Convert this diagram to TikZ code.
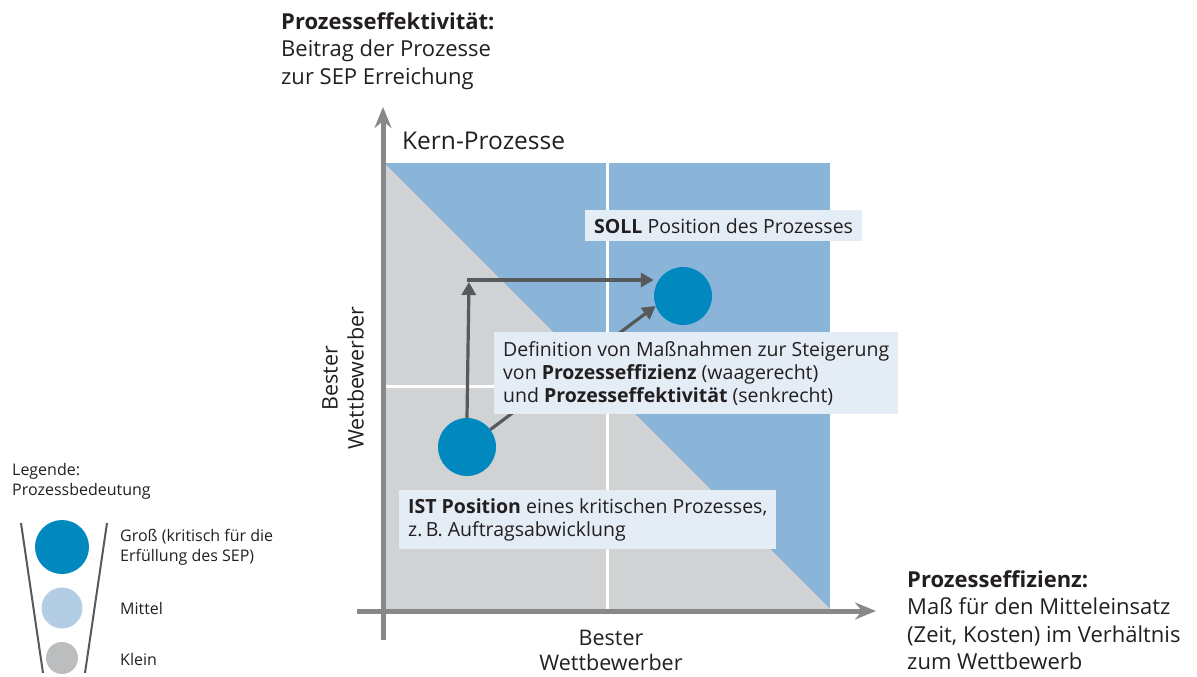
\documentclass[tikz,border=0pt]{standalone}
\usepackage{fontspec}
\setmainfont{Open Sans}
\usetikzlibrary{arrows.meta}
\definecolor{qblue}{HTML}{8AB4D8}
\definecolor{qgray}{HTML}{D1D2D4}
\definecolor{axisgray}{HTML}{86888A}
\definecolor{darrow}{HTML}{58595B}
\definecolor{boxfill}{HTML}{E4ECF5}
\definecolor{dotbig}{HTML}{0088BF}
\definecolor{dotmid}{HTML}{B3CDE5}
\definecolor{dotsmall}{HTML}{BCBDBF}
\definecolor{txt}{HTML}{231F20}
\tikzset{
  axis/.style={line width=5pt, draw=axisgray, -{Stealth[length=21pt,width=17pt,inset=7pt]}},
  movearrow/.style={line width=3.2pt, draw=darrow, -{Triangle[length=13pt,width=14pt]}},
  infobox/.style={fill=boxfill, text=txt, align=left, inner xsep=9pt, inner ysep=8pt, font=\fontsize{19.5}{23}\selectfont},
  lbl/.style={text=txt, align=left, inner sep=0pt, font=\fontsize{22}{27.5}\selectfont},
  leg/.style={text=txt, align=left, inner sep=0pt, font=\fontsize{16}{20}\selectfont},
  dot/.style={circle, inner sep=0pt, minimum size=#1},
}
\begin{document}
\begin{tikzpicture}[x=1pt,y=-1pt]
\useasboundingbox (0,0) rectangle (1197,677);
% quadrant
\fill[qblue] (384,163) rectangle (830,609);
\fill[qgray] (384,163) -- (830,609) -- (384,609) -- cycle;
\draw[white, line width=3pt] (607,163) -- (607,609);
\draw[white, line width=3pt] (384,386) -- (830,386);
% axes
\coordinate (yA) at (383,640);
\coordinate (yB) at (383,107);
\coordinate (xA) at (357,611);
\coordinate (xB) at (876,611);
\draw[axis] (yA) -- (yB);
\draw[axis] (xA) -- (xB);
% circles
\node[dot=58pt, fill=dotbig] (ist) at (467,447) {};
\node[dot=58pt, fill=dotbig] (soll) at (683,296) {};
% arrows
\coordinate (corner) at (469,280);
\draw[movearrow] (ist.north) -- (corner |- 0,282);
\draw[line width=3.2pt, draw=darrow] (467,280) -- (corner);
\draw[movearrow] (corner) -- (soll.west |- corner);
\draw[movearrow] (ist) -- (soll.200);
% boxes
\node[infobox, anchor=north west] (sollbox) at (585,210) {\textbf{SOLL} Position des Prozesses};
\node[infobox, anchor=north west, inner ysep=9pt] (defbox) at (494,332) {Definition von Maßnahmen zur Steigerung\\von \textbf{Prozesseffizienz} (waagerecht)\\und \textbf{Prozesseffektivität} (senkrecht)};
\node[infobox, anchor=north west, inner ysep=8pt] (istbox) at (399,490) {\textbf{IST Position} eines kritischen Prozesses,\\z.\,B. Auftragsabwicklung};
% labels
\node[lbl, anchor=north west, font=\fontsize{24.5}{28}\selectfont] (title) at (402,132) {Kern-Prozesse};
\node[lbl, anchor=north west] (ylabel) at (281,12) {\textbf{Prozesseffektivität:}\\Beitrag der Prozesse\\zur SEP Erreichung};
\node[lbl, anchor=north west] (xlabel) at (907,570) {\textbf{Prozesseffizienz:}\\Maß für den Mitteleinsatz\\(Zeit, Kosten) im Verhältnis\\zum Wettbewerb};
\node[lbl, align=center, rotate=90, font=\fontsize{21.5}{26}\selectfont] (ybest) at (343,378) {Bester\\Wettbewerber};
\node[lbl, align=center, anchor=north, font=\fontsize{21.5}{25}\selectfont] (xbest) at (611,630) {Bester\\Wettbewerber};
% legend
\node[leg, anchor=north west] (legtitle) at (12,463) {Legende:\\Prozessbedeutung};
\coordinate (fl1) at (21,523);
\coordinate (fl2) at (43,673);
\coordinate (fr1) at (107,523);
\coordinate (fr2) at (85,673);
\draw[line width=2pt, draw=darrow] (fl1) -- (fl2);
\draw[line width=2pt, draw=darrow] (fr1) -- (fr2);
\node[dot=54pt, fill=dotbig] (lbig) at (62,547) {};
\node[dot=41pt, fill=dotmid] (lmid) at (62,608) {};
\node[dot=32pt, fill=dotsmall] (lsmall) at (62,658) {};
\node[leg, anchor=west] (tbig) at (120,547) {Groß (kritisch für die\\Erfüllung des SEP)};
\node[leg, anchor=west] (tmid) at (120,608) {Mittel};
\node[leg, anchor=west] (tsmall) at (120,659) {Klein};
\end{tikzpicture}
\end{document}
